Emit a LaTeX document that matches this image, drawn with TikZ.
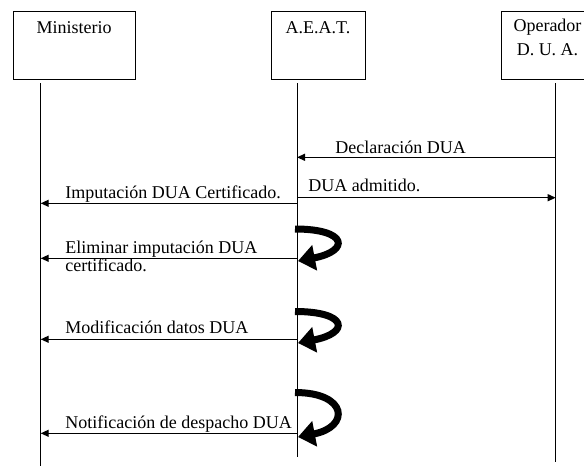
\documentclass[tikz,border=0pt]{standalone}
\usepackage{fontspec}
\setmainfont{Liberation Serif}
\usetikzlibrary{arrows.meta}

\begin{document}
\begin{tikzpicture}[x=1pt, y=-1pt, >={Triangle[length=8pt,width=7pt]}, line width=0.9pt,
        actor/.style={draw, line width=0.9pt, minimum width=#1, minimum height=68pt, inner sep=0pt},
        msg/.style={->, line width=1.2pt},
        txt/.style={anchor=base west, inner sep=0pt, font=\fontsize{18}{18.5}\selectfont},
        selfloop/.style={-{Triangle[length=17pt,width=25pt]}, line width=7pt}]
        \useasboundingbox (0,0) rectangle (584,466);
        
        % Actor boxes
        \node[actor=122pt] (min) at (74,45) {};
        \node[actor=94pt] (aeat) at (318,45) {};
        \node[actor=112pt] (op) at (557,45) {};
        \node[txt, anchor=base] (minT) at (74,33) {Ministerio};
        \node[txt, anchor=base] (aeatT) at (318,33) {A.E.A.T.};
        \node[txt, anchor=base] (opT) at (547.5,31.7) {Operador};
        \node[txt, anchor=base] (opT2) at (547.5,55) {D. U. A.};
        
        % Lifelines
        \coordinate (minTop) at (40.7,83);
        \coordinate (minBot) at (40.7,466);
        \coordinate (aeatTop) at (297,83);
        \coordinate (aeatBot) at (297,457);
        \coordinate (opTop) at (555.7,83);
        \coordinate (opBot) at (555.7,462);
        \draw (minTop) -- (minBot);
        \draw (aeatTop) -- (aeatBot);
        \draw (opTop) -- (opBot);
        
        % Messages
        \draw[msg] (opTop |- 0,157.3) -- (aeatTop |- 0,157.3);
        \node[txt] (decl) at (335,153.3) {Declaración DUA};
        
        \draw[msg] (aeatTop |- 0,197.7) -- (opTop |- 0,197.7);
        \node[txt] (adm) at (308,191.7) {DUA admitido.};
        
        \draw[msg] (aeatTop |- 0,203.3) -- (minTop |- 0,203.3);
        \node[txt] (imp) at (65,198) {Imputación DUA Certificado.};
        
        \draw[msg] (aeatTop |- 0,258.3) -- (minTop |- 0,258.3);
        \node[txt] (elimA) at (65,253.3) {Eliminar imputación DUA};
        \node[txt] (elimB) at (65,271.7) {certificado.};
        
        \draw[msg] (aeatTop |- 0,339.3) -- (minTop |- 0,339.3);
        \node[txt] (mod) at (65,333.5) {Modificación datos DUA};
        
        \draw[msg] (aeatTop |- 0,433.3) -- (minTop |- 0,433.3);
        \node[txt] (notif) at (65,428) {Notificación de despacho DUA};
        
        % Self calls on A.E.A.T.
        \foreach \ya/\yb in {229/261, 311.5/343, 392.5/437} {
            \draw[selfloop] (295,\ya) .. controls (348,\ya) and (350,\yb-10) .. (298,\yb);
        }
        
\end{tikzpicture}
\end{document}
